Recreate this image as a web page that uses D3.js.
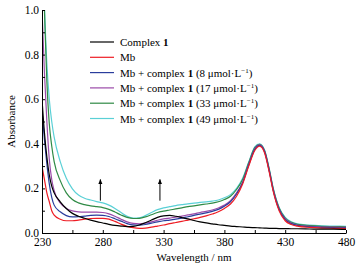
<!DOCTYPE html>
<html>
<head>
<meta charset="utf-8">
<title>UV-vis titration</title>
<style>
	body { margin: 0; background: #fff; }
	text { font-family: "Liberation Serif", "DejaVu Serif", serif; }
</style>
</head>
<body>
<svg width="361" height="272"></svg>
<script src="https://cdn.jsdelivr.net/npm/d3@7/dist/d3.min.js"></script>
<script>
// wavelengths (nm)
const wl = [230, 232, 234, 236, 238, 240, 245, 250, 255, 260, 265, 270, 275, 280, 285, 290, 295, 300, 305, 310,
	315, 320, 325, 330, 335, 340, 345, 350, 355, 360, 365, 370, 375, 380, 385, 390, 395, 400, 405, 409,
	413, 417, 420, 425, 430, 435, 440, 450, 460, 470, 480]

// absorbance for each spectrum
const complex1 = [0.60, 0.45, 0.34, 0.26, 0.21, 0.18, 0.14, 0.11, 0.088, 0.075, 0.066, 0.058, 0.051, 0.045, 0.039, 0.034, 0.031, 0.029, 0.030, 0.036,
	0.046, 0.058, 0.070, 0.077, 0.079, 0.075, 0.069, 0.063, 0.056, 0.050, 0.045, 0.041, 0.037, 0.034, 0.031, 0.029, 0.027, 0.025, 0.024, 0.023,
	0.022, 0.021, 0.021, 0.020, 0.020, 0.019, 0.019, 0.018, 0.017, 0.017, 0.016]
const mb = [0.30, 0.24, 0.18, 0.14, 0.10, 0.08, 0.062, 0.055, 0.055, 0.058, 0.062, 0.065, 0.066, 0.066, 0.062, 0.052, 0.040, 0.030, 0.024, 0.021,
	0.022, 0.026, 0.031, 0.036, 0.042, 0.047, 0.052, 0.058, 0.064, 0.070, 0.077, 0.085, 0.095, 0.110, 0.130, 0.165, 0.220, 0.300, 0.370, 0.390,
	0.360, 0.270, 0.190, 0.100, 0.055, 0.038, 0.031, 0.025, 0.022, 0.021, 0.020]
const mb8 = [0.55, 0.42, 0.31, 0.22, 0.16, 0.125, 0.095, 0.078, 0.072, 0.073, 0.076, 0.079, 0.080, 0.079, 0.074, 0.064, 0.053, 0.042, 0.036, 0.035,
	0.038, 0.044, 0.050, 0.055, 0.058, 0.062, 0.067, 0.073, 0.079, 0.085, 0.090, 0.097, 0.106, 0.120, 0.140, 0.175, 0.225, 0.305, 0.375, 0.393,
	0.365, 0.275, 0.195, 0.105, 0.060, 0.042, 0.034, 0.028, 0.025, 0.024, 0.023]
const mb17 = [1.00, 0.72, 0.50, 0.33, 0.24, 0.19, 0.135, 0.110, 0.099, 0.095, 0.094, 0.094, 0.094, 0.092, 0.086, 0.075, 0.062, 0.050, 0.043, 0.041,
	0.044, 0.050, 0.057, 0.063, 0.067, 0.071, 0.076, 0.081, 0.086, 0.092, 0.097, 0.103, 0.112, 0.125, 0.145, 0.180, 0.228, 0.308, 0.378, 0.395,
	0.367, 0.278, 0.198, 0.108, 0.063, 0.045, 0.036, 0.030, 0.027, 0.026, 0.025]
const mb33 = [1.30, 1.00, 0.68, 0.49, 0.39, 0.32, 0.235, 0.18, 0.150, 0.135, 0.127, 0.122, 0.118, 0.114, 0.106, 0.094, 0.081, 0.070, 0.065, 0.066,
	0.072, 0.082, 0.092, 0.098, 0.103, 0.108, 0.113, 0.118, 0.122, 0.126, 0.130, 0.134, 0.140, 0.150, 0.165, 0.195, 0.240, 0.315, 0.383, 0.398,
	0.370, 0.282, 0.202, 0.112, 0.067, 0.048, 0.039, 0.033, 0.030, 0.029, 0.028]
const mb49 = [1.40, 1.02, 0.76, 0.60, 0.50, 0.43, 0.32, 0.245, 0.198, 0.170, 0.156, 0.148, 0.141, 0.135, 0.125, 0.110, 0.092, 0.075, 0.067, 0.068,
	0.078, 0.092, 0.105, 0.113, 0.118, 0.123, 0.127, 0.131, 0.134, 0.137, 0.140, 0.143, 0.148, 0.158, 0.172, 0.200, 0.245, 0.318, 0.386, 0.400,
	0.372, 0.285, 0.205, 0.115, 0.070, 0.050, 0.041, 0.035, 0.032, 0.031, 0.030]

// legend labels: [prefix, bold part, concentration]
const labels = [["Complex ", "1", null], ["Mb", null, null], ["Mb + complex ", "1", "8"],
	["Mb + complex ", "1", "17"], ["Mb + complex ", "1", "33"], ["Mb + complex ", "1", "49"]]
const colors = ["#000000", "#ee1c24", "#2a3d9c", "#9a49a8", "#2f8a45", "#5ad0d6"]

// arrows (nm, from, to)
const arrowNm = [278, 327]
const arrowA = [0.145, 0.24]

const xTicks = [230, 280, 330, 380, 430, 480]
const yTicks = [0, 0.2, 0.4, 0.6, 0.8, 1.0]

const svg = d3.select("svg")
const m = { l: 42, r: 346, t: 10, b: 233 }
const sx = d3.scaleLinear().domain([230, 480]).range([m.l, m.r])
const sy = d3.scaleLinear().domain([0, 1]).range([m.b, m.t])

svg.append("clipPath").attr("id", "clip").append("rect")
	.attr("x", m.l).attr("y", m.t).attr("width", m.r - m.l).attr("height", m.b - m.t)

// spectra, drawn so the lowest ends up on top like the original
const series = [complex1, mb, mb8, mb17, mb33, mb49]
const line = d3.line().x((d, i) => sx(wl[i])).y(d => sy(d)).curve(d3.curveMonotoneX)
const lines = svg.append("g").attr("clip-path", "url(#clip)")
;[5, 4, 3, 2, 1, 0].forEach(k => {
	lines.append("path").attr("d", line(series[k]))
		.attr("fill", "none").attr("stroke", colors[k]).attr("stroke-width", 1.2)
})

// axes, ticks inward
const xAxis = d3.axisBottom(sx).tickValues(d3.range(230, 481, 25)).tickSizeInner(-3).tickSizeOuter(0)
	.tickFormat(d => xTicks.includes(d) ? d : "")
const gx = svg.append("g").attr("transform", `translate(0,${m.b})`).call(xAxis)
const yAxis = d3.axisLeft(sy).tickValues(d3.range(0, 1.01, 0.1)).tickSizeInner(-3).tickSizeOuter(0)
	.tickFormat(d => yTicks.some(t => Math.abs(t - d) < 1e-6) ? d3.format(".1f")(d) : "")
const gy = svg.append("g").attr("transform", `translate(${m.l},0)`).call(yAxis)
;[gx, gy].forEach(g => {
	g.select(".domain").attr("stroke", "#000").attr("stroke-width", 1)
	g.selectAll(".tick line").attr("stroke", "#000")
	g.selectAll("text").attr("font-family", "Liberation Serif").attr("font-size", 11.5).attr("fill", "#000")
})
gx.selectAll("text").attr("y", 5).attr("dy", "0.72em")
gy.selectAll("text").attr("x", -3).attr("dy", "0.3em")

svg.append("text").attr("x", (m.l + m.r) / 2).attr("y", 261).attr("text-anchor", "middle")
	.attr("font-size", 11).text("Wavelength / nm")
svg.append("text").attr("transform", `translate(15,${(m.t + m.b) / 2}) rotate(-90)`)
	.attr("text-anchor", "middle").attr("font-size", 11).text("Absorbance")

// arrows
svg.append("defs").append("marker").attr("id", "ah").attr("viewBox", "0 0 10 10")
	.attr("refX", 9).attr("refY", 5).attr("markerWidth", 5).attr("markerHeight", 6).attr("orient", "auto")
	.append("path").attr("d", "M0,1L10,5L0,9Z").attr("fill", "#000")
arrowNm.forEach(n => {
	svg.append("line").attr("x1", sx(n)).attr("x2", sx(n))
		.attr("y1", sy(arrowA[0])).attr("y2", sy(arrowA[1]))
		.attr("stroke", "#000").attr("stroke-width", 1).attr("marker-end", "url(#ah)")
})

// legend
const lg = svg.append("g")
labels.forEach((d, i) => {
	const y = 42 + i * 15.3
	lg.append("line").attr("x1", 90).attr("x2", 114).attr("y1", y).attr("y2", y)
		.attr("stroke", colors[i]).attr("stroke-width", 1.2)
	const t = lg.append("text").attr("x", 120).attr("y", y + 4).attr("font-size", 11)
	t.append("tspan").text(d[0])
	if (d[1]) t.append("tspan").attr("font-weight", "bold").text(d[1])
	if (d[2]) {
		t.append("tspan").text(` (${d[2]} \u03bcmol\u00b7L`)
		t.append("tspan").attr("font-size", 7).attr("dy", -4).text("\u22121")
		t.append("tspan").attr("dy", 4).text(")")
	}
})
</script>
</body>
</html>
